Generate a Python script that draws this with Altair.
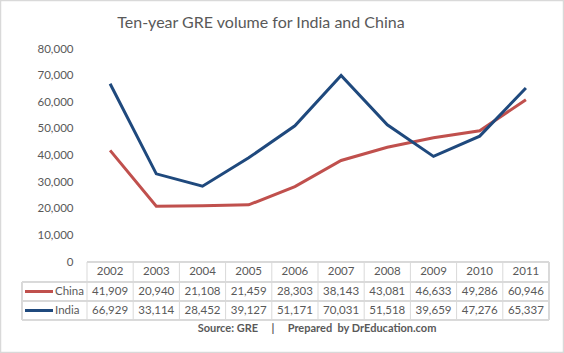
import altair as alt
import pandas as pd

years = ["2002", "2003", "2004", "2005", "2006", "2007", "2008", "2009", "2010", "2011"]
china = [41909, 20940, 21108, 21459, 28303, 38143, 43081, 46633, 49286, 60946]
india = [66929, 33114, 28452, 39127, 51171, 70031, 51518, 39659, 47276, 65337]
series_names = ["China", "India"]
series_colors = ["#C0504D", "#1F497D"]
y_ticks = [0, 10000, 20000, 30000, 40000, 50000, 60000, 70000, 80000]
title_text = "Ten-year GRE volume for India and China"
NB = "\u00a0"
source_text = "Source: GRE" + NB * 5 + "|" + NB * 5 + "Prepared" + NB * 2 + "by DrEducation.com"

FONT = "Lato"
TXT = "#595959"
GRID = "#D9D9D9"

W, H = 462, 213

rows = []
for s, vals in zip(series_names, [china, india]):
    for y, v in zip(years, vals):
        rows.append({"year": y, "series": s, "value": v})
df = pd.DataFrame(rows)
years_df = pd.DataFrame({"year": years})
legend_df = pd.DataFrame({"series": series_names})

xscale = alt.Scale(domain=years, paddingInner=0, paddingOuter=0)
color = alt.Color("series:N", scale=alt.Scale(domain=series_names, range=series_colors), legend=None)

lines = alt.Chart(df).mark_line(strokeWidth=3).encode(
    x=alt.X("year:O", scale=xscale, axis=None),
    y=alt.Y("value:Q", scale=alt.Scale(domain=[0, 80000], nice=False),
            axis=alt.Axis(values=y_ticks, format=",.0f", domain=False, ticks=False, grid=False,
                          labelFont=FONT, labelFontSize=11.5, labelColor=TXT, labelPadding=14, title=None)),
    color=color,
)

# table grid
hrules = []
for yy, x0 in [(213, 0), (233, -65), (252, -65), (271, -65)]:
    hrules.append(alt.Chart(years_df).mark_rule(color=GRID, strokeWidth=1).encode(
        x=alt.value(x0), x2=alt.value(W), y=alt.value(yy)))
vrules = alt.Chart(years_df).mark_rule(color=GRID, strokeWidth=1).encode(
    x=alt.X("year:O", bandPosition=0), y=alt.value(213), y2=alt.value(271))
vlast = alt.Chart(years_df).mark_rule(color=GRID, strokeWidth=1).encode(
    x=alt.value(W), y=alt.value(213), y2=alt.value(271))
vleft = alt.Chart(years_df).mark_rule(color=GRID, strokeWidth=1).encode(
    x=alt.value(-65), y=alt.value(233), y2=alt.value(271))

header = alt.Chart(years_df).mark_text(font=FONT, fontSize=11.5, color=TXT, baseline="middle").encode(
    x=alt.X("year:O"), y=alt.value(223), text="year:N")

cell_layers = []
legend_layers = []
for s, yc in zip(series_names, [242.5, 261.5]):
    cell_layers.append(alt.Chart(df).transform_filter(alt.datum.series == s).mark_text(
        font=FONT, fontSize=11.5, color=TXT, baseline="middle").encode(
        x=alt.X("year:O"), y=alt.value(yc), text=alt.Text("value:Q", format=",.0f")))
    ld = legend_df[legend_df.series == s]
    legend_layers.append(alt.Chart(ld).mark_rule(strokeWidth=3).encode(
        x=alt.value(-62), x2=alt.value(-34), y=alt.value(yc), color=color))
    legend_layers.append(alt.Chart(ld).mark_text(font=FONT, fontSize=11.5, color=TXT, align="left", baseline="middle").encode(
        x=alt.value(-32), y=alt.value(yc), text="series:N"))

title = alt.Chart(pd.DataFrame({"t": [title_text]})).mark_text(
    font=FONT, fontSize=16, color=TXT, align="center", baseline="middle").encode(
    x=alt.value(174), y=alt.value(-26), text="t:N")
source = alt.Chart(pd.DataFrame({"t": [source_text]})).mark_text(
    font=FONT, fontSize=11, fontWeight="bold", color=TXT, align="center", baseline="middle").encode(
    x=alt.value(230), y=alt.value(280), text="t:N")
border = alt.Chart(pd.DataFrame({"t": [0]})).mark_rect(fill="transparent", stroke=GRID, strokeWidth=1.5).encode(
    x=alt.value(-86.5), x2=alt.value(476.5), y=alt.value(-48.5), y2=alt.value(303.5))

chart = alt.layer(
    lines, *hrules, vrules, vlast, vleft, header, *cell_layers, *legend_layers, title, source, border
).properties(
    width=W, height=H,
    padding={"left": 87, "top": 49, "right": 15, "bottom": 91},
    autosize=alt.AutoSizeParams(type="none"),
    background="white",
).configure_view(strokeWidth=0)

chart.save("out.html", embed_options={"renderer": "svg", "actions": False})
